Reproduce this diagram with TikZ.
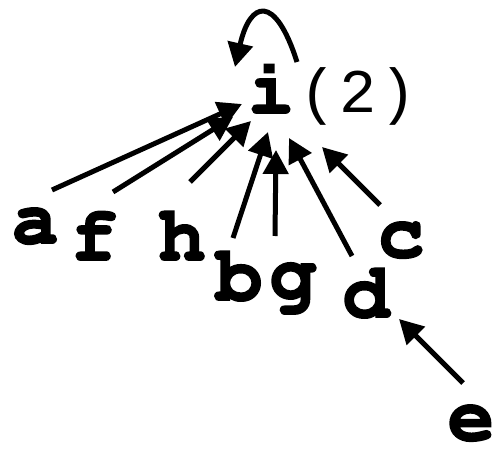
\documentclass[tikz,border=0pt]{standalone}
\usepackage[T1]{fontenc}
\usepackage{fontspec}
\newfontfamily\countfont[LetterSpace=5]{Liberation Mono}
\usepackage{tikz}
\usetikzlibrary{arrows.meta, positioning, calc}

\begin{document}
\begin{tikzpicture}[x=1pt, y=1pt, >={Triangle[length=24pt, width=25pt]}, line width=5pt]
      \tikzset{letter/.style={anchor=base, inner sep=0pt, font=\fontencoding{T1}\fontfamily{pcr}\fontsize{78}{80}\selectfont\bfseries\special{pdf:literal direct 2 Tr 1.8 w}}}
      \useasboundingbox (0,0) rectangle (493,451);
      \node[letter] (i) at (271,338) {i};
      \node[anchor=base west, inner sep=0pt, font=\countfont\fontsize{62}{64}\selectfont] (cnt) at (i.base east) {(2)};
      \node[letter] (a) at (35,208) {a};
      \node[letter] (f) at (94,191) {f};
      \node[letter] (h) at (182,191) {h};
      \node[letter] (b) at (239,151) {b};
      \node[letter] (g) at (293,153) {g};
      \node[letter] (d) at (366,134) {d};
      \node[letter] (c) at (401,194) {c};
      \node[letter] (e) at (471,11) {e};
      % edges into i
      \draw[->] ($(a.base)+(17,53)$) -- ($(i.base)+(-29,9)$);
      \draw[->] ($(f.base)+(19,68)$) -- ($(i.base)+(-38,-4)$);
      \draw[->] ($(h.base)+(8,78)$) -- ($(i.base)+(-20,-8)$);
      \draw[->] ($(b.base)+(-6,62)$) -- ($(i.base)+(-3,-19)$);
      \draw[->] ($(g.base)+(-18,62)$) -- ($(i.base)+(5,-37)$);
      \draw[->] ($(d.base)+(-14,61)$) -- ($(i.base)+(18,-25)$);
      \draw[->] ($(c.base)+(-21,52)$) -- ($(i.base)+(51,-34)$);
      \draw[->] ($(e.base)+(-8,57)$) -- ($(d.base)+(33,-2)$);
      % self loop
      \draw[->] ($(i.base)+(26,51)$) .. controls ($(i.base)+(4,120)$) and ($(i.base)+(-21,112)$) .. ($(i.base)+(-36,46)$);
    \end{tikzpicture}
\end{document}
